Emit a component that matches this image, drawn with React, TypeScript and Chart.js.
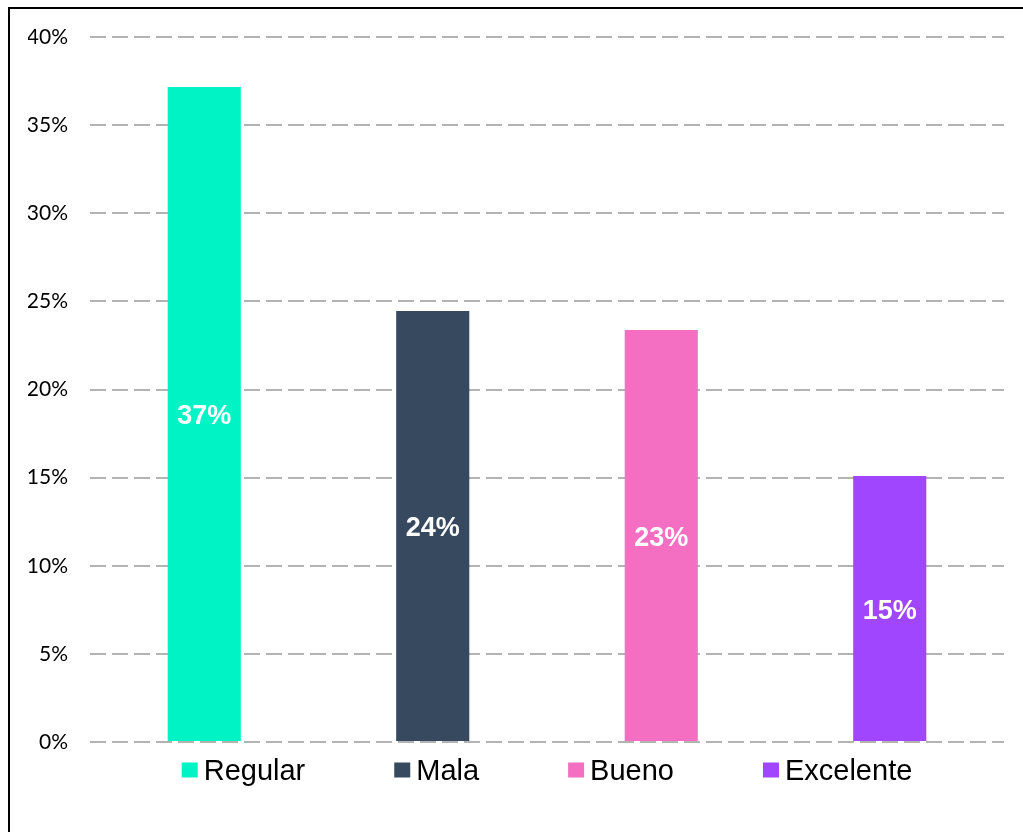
import React, { useEffect, useRef } from "react";
import { Chart, registerables } from "chart.js";

Chart.register(...registerables);

const categories = ["Regular", "Mala", "Bueno", "Excelente"];
const values = [37.16, 24.45, 23.38, 15.09];
const barColors = ["#00F3C4", "#36495E", "#F46FC1", "#A046FE"];
const yTicks = [0, 5, 10, 15, 20, 25, 30, 35, 40];

const valueLabels = {
  id: "valueLabels",
  afterDatasetsDraw(chart: any) {
    const ctx = chart.ctx;
    const meta = chart.getDatasetMeta(0);
    ctx.save();
    ctx.font = "bold 27px 'Liberation Sans', Arial, sans-serif";
    ctx.fillStyle = "#ffffff";
    ctx.textAlign = "center";
    ctx.textBaseline = "middle";
    meta.data.forEach((bar: any, i: number) => {
      const v = chart.data.datasets[0].data[i];
      const yc = (bar.y + bar.base) / 2;
      ctx.fillText(Math.round(v) + "%", bar.x, yc + 3);
    });
    ctx.restore();
  },
};

const bottomLegend = {
  id: "bottomLegend",
  afterDraw(chart: any) {
    const ctx = chart.ctx;
    const area = chart.chartArea;
    const labels: string[] = chart.data.labels;
    const colors: string[] = chart.data.datasets[0].backgroundColor;
    const box = 16;
    const boxH = 15;
    const gapText = 6;
    const gapItem = 89;
    ctx.save();
    ctx.font = "29px 'Liberation Sans', Arial, sans-serif";
    const widths = labels.map((l) => ctx.measureText(l).width);
    const total =
      widths.reduce((a, w) => a + box + gapText + w, 0) + gapItem * (labels.length - 1);
    let x = (area.left + area.right) / 2 - total / 2;
    const yMid = area.bottom + 28;
    ctx.textBaseline = "middle";
    ctx.textAlign = "left";
    labels.forEach((l, i) => {
      ctx.fillStyle = colors[i];
      ctx.fillRect(x, yMid - boxH / 2, box, boxH);
      ctx.fillStyle = "#000000";
      ctx.fillText(l, x + box + gapText, yMid + 2);
      x += box + gapText + widths[i] + gapItem;
    });
    ctx.restore();
  },
};

export default function App() {
  const ref = useRef<HTMLCanvasElement | null>(null);
  useEffect(() => {
    if (!ref.current) return;
    const chart = new Chart(ref.current, {
      type: "bar",
      data: {
        labels: categories,
        datasets: [
          {
            data: values,
            backgroundColor: barColors,
            barPercentage: 0.32,
            categoryPercentage: 1,
          },
        ],
      },
      options: {
        animation: false,
        responsive: false,
        maintainAspectRatio: false,
        layout: { padding: { left: 20, right: 19, top: 28, bottom: 90 } },
        plugins: {
          legend: { display: false },
          tooltip: { enabled: false },
        },
        scales: {
          x: { display: false },
          y: {
            min: 0,
            max: 40,
            afterBuildTicks(scale: any) {
              scale.ticks = yTicks.map((v) => ({ value: v }));
            },
            afterFit(scale: any) {
              scale.width = 62;
            },
            ticks: {
              padding: 0,
              color: "#000000",
              font: { family: "Lato, 'Open Sans', sans-serif", size: 21 },
              callback: (v: any) => v + "%",
            },
            grid: {
              color: "#b3b3b3",
              lineWidth: 2,
              drawTicks: true,
              tickLength: 22,
              tickColor: "rgba(0,0,0,0)",
            },
            border: { display: false, dash: [16, 6] },
          },
        },
      },
      plugins: [valueLabels, bottomLegend],
    });
    return () => chart.destroy();
  }, []);

  return (
    <div
      style={{
        position: "fixed",
        left: 0,
        top: 0,
        width: 1023,
        height: 832,
        overflow: "hidden",
        background: "#ffffff",
      }}
    >
      <canvas
        ref={ref}
        width={1015}
        height={823}
        style={{ position: "absolute", left: 8, top: 9, width: 1015, height: 823 }}
      />
      <div
        style={{
          position: "absolute",
          left: 8,
          top: 7,
          width: 1100,
          height: 900,
          border: "2px solid #000",
          boxSizing: "border-box",
          pointerEvents: "none",
        }}
      />
    </div>
  );
}
